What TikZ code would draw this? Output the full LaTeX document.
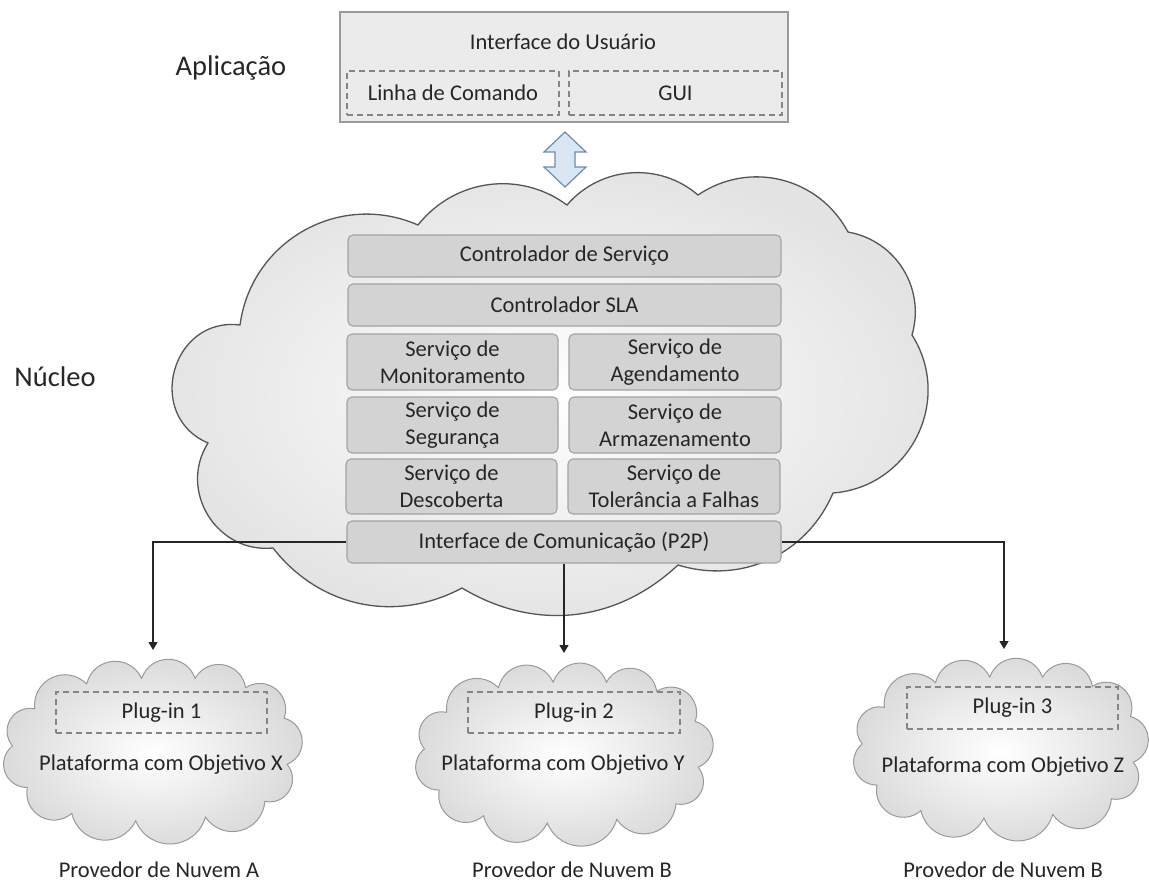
\documentclass[tikz,border=0pt]{standalone}
\usepackage{fontspec}
\setmainfont{Carlito}
\usetikzlibrary{arrows.meta}
\definecolor{txt}{HTML}{262626}
\definecolor{boxfill}{HTML}{D3D3D3}
\definecolor{boxline}{HTML}{A3A3A3}
\definecolor{topfill}{HTML}{EBEBEB}
\definecolor{topline}{HTML}{999999}
\definecolor{dashline}{HTML}{858585}
\definecolor{cloudline}{HTML}{555555}
\definecolor{smallcloudline}{HTML}{9A9A9A}
\definecolor{arrfill}{HTML}{DAE6F3}
\definecolor{arrline}{HTML}{6A8CB5}
\newcommand{\mysmallcloud}[4]{%
\begin{scope}[shift={(#1,#2)}, x=#3pt, y=#4pt]
\shadedraw[draw=smallcloudline, line width=1pt, inner color=white, outer color=gray!30]
 (-0.80,0.45) to[bend left=70,looseness=1.3] (-0.45,0.72)
 to[bend left=70,looseness=1.3] (-0.08,0.78)
 to[bend left=70,looseness=1.3] (0.28,0.78)
 to[bend left=70,looseness=1.3] (0.62,0.68)
 to[bend left=70,looseness=1.3] (0.88,0.35)
 to[bend left=70,looseness=1.3] (0.90,-0.15)
 to[bend left=70,looseness=1.3] (0.75,-0.55)
 to[bend left=70,looseness=1.3] (0.35,-0.72)
 to[bend left=70,looseness=1.3] (-0.12,-0.76)
 to[bend left=70,looseness=1.3] (-0.55,-0.68)
 to[bend left=70,looseness=1.3] (-0.85,-0.40)
 to[bend left=70,looseness=1.3] (-0.95,0.05)
 to[bend left=70,looseness=1.3] (-0.80,0.45) -- cycle;
\end{scope}}
\begin{document}
\begin{tikzpicture}[x=1pt,y=1pt,
  every node/.style={text=txt,font=\fontsize{22.5}{27}\selectfont},
  svc/.style={draw=boxline, fill=boxfill, rounded corners=5pt, line width=1.1pt, inner sep=0pt, align=center},
  dashbox/.style={draw=dashline, dash pattern=on 6pt off 4pt, line width=1.1pt, inner sep=0pt},
  biglabel/.style={font=\fontsize{28.5}{32}\selectfont},
  provlabel/.style={inner sep=0.5pt},
  conn/.style={draw=black!85, line width=1.3pt, -{Triangle[width=9pt,length=8pt]}}
]
\useasboundingbox (0,0) rectangle (1149,-884);

% top box
\node[draw=topline, fill=topfill, line width=1.5pt, minimum width=448pt, minimum height=110pt, inner sep=0pt] (ui) at (564,-67) {};
\node (uit) at (563,-42) {Interface do Usuário};
\node[dashbox, minimum width=212pt, minimum height=44pt] (lc) at (453,-93) {Linha de Comando};
\node[dashbox, minimum width=213pt, minimum height=44pt] (gui) at (675.5,-93) {GUI};

\node[biglabel] (apl) at (231,-68) {Aplicação};
\node[biglabel] (nuc) at (55,-377) {Núcleo};

% double arrow
\path[draw=arrline, fill=arrfill, line width=1.2pt, line join=miter]
 (565,-132) -- (586,-152) -- (575,-152) -- (575,-167) -- (586,-167) -- (565,-187)
 -- (544,-167) -- (555,-167) -- (555,-152) -- (544,-152) -- cycle;

% big cloud
\shadedraw[draw=cloudline, line width=1.3pt, inner color=white, outer color=gray!22]
 (240,-325) to[bend left=53, looseness=1.07] (418,-225)
 to[bend left=44] (567,-205)
 to[bend left=45] (698,-195)
 to[bend left=48, looseness=1.03] (848,-232)
 to[bend left=48, looseness=1.03] (912,-335)
 to[bend left=59, looseness=1.12] (833,-493)
 to[bend left=42] (678,-565)
 to[bend left=37] (462,-588)
 to[bend left=40] (273,-548)
 to[bend left=64, looseness=1.17] (208,-443)
 to[bend left=82, looseness=1.45] (240,-325) -- cycle;

% service boxes
\node[svc, minimum width=433pt, minimum height=42pt] (ctrl) at (564.5,-256) {Controlador de Serviço};
\node[svc, minimum width=433pt, minimum height=42pt] (sla) at (564.5,-305) {Controlador SLA};
\node[svc, minimum width=211pt, minimum height=56pt] (mon) at (452.5,-362) {Serviço de\\Monitoramento};
\node[svc, minimum width=212pt, minimum height=56pt] (age) at (675,-362) {Serviço de\\Agendamento};
\node[svc, minimum width=211pt, minimum height=56pt] (seg) at (452.5,-425) {Serviço de\\Segurança};
\node[svc, minimum width=212pt, minimum height=56pt] (arm) at (675,-425) {Serviço de\\Armazenamento};
\node[svc, minimum width=211pt, minimum height=55pt] (des) at (451.5,-486.5) {Serviço de\\Descoberta};
\node[svc, minimum width=212pt, minimum height=55pt] (tol) at (674,-486.5) {Serviço de\\Tolerância a Falhas};
\node[svc, minimum width=434pt, minimum height=42pt] (p2p) at (564,-542) {Interface de Comunicação (P2P)};

% small clouds
\mysmallcloud{153.5}{-750.5}{148.5}{92.5}
\mysmallcloud{565}{-753.5}{148}{91.5}
\mysmallcloud{1001.5}{-748.5}{146.5}{91.5}

\node[dashbox, minimum width=211pt, minimum height=41pt] (pl1) at (161.5,-712.5) {Plug-in 1};
\node[dashbox, minimum width=212pt, minimum height=41pt] (pl2) at (574,-712.5) {Plug-in 2};
\node[dashbox, minimum width=211pt, minimum height=42pt] (pl3) at (1012.5,-708) {Plug-in 3};

\node (px) at (161,-765) {Plataforma com Objetivo X};
\node (py) at (563,-765) {Plataforma com Objetivo Y};
\node (pz) at (1003,-767) {Plataforma com Objetivo Z};

\node[provlabel] (pa) at (159,-870) {Provedor de Nuvem A};
\node[provlabel] (pb) at (572,-870) {Provedor de Nuvem B};
\node[provlabel] (pc) at (1003,-870) {Provedor de Nuvem B};

% connectors
\coordinate (t1) at (153,-650);
\coordinate (t2) at (564,-653);
\coordinate (t3) at (1004,-649);
\draw[conn] (p2p.west) -| (t1);
\draw[conn] (p2p.south -| t2) -- (t2);
\draw[conn] (p2p.east) -| (t3);
\end{tikzpicture}
\end{document}
